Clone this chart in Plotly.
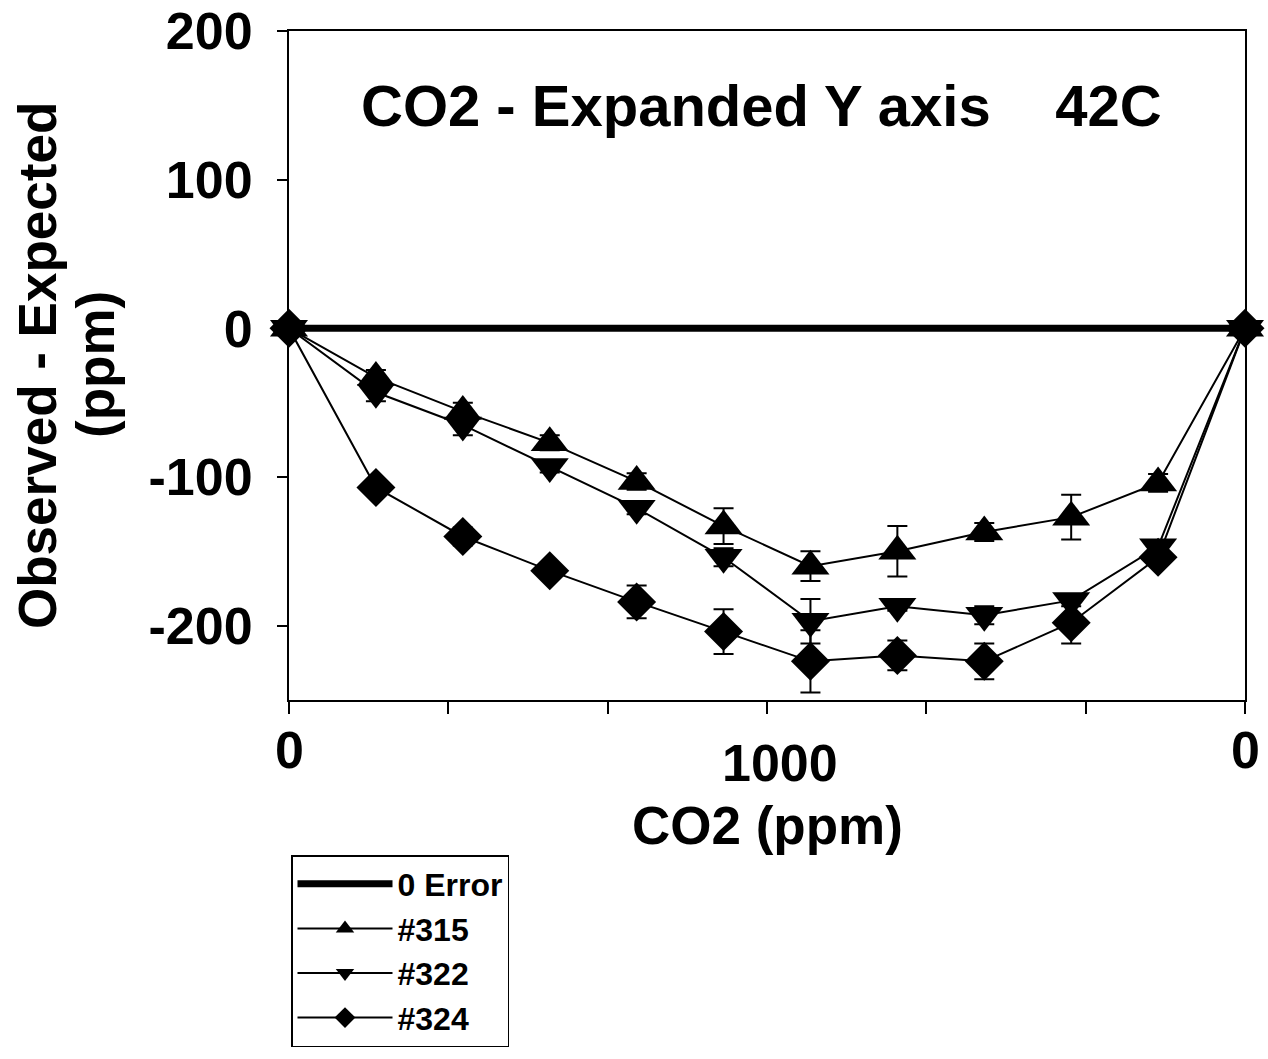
import plotly.graph_objects as go

# ---- data ----
sweep_step = [0, 1, 2, 3, 4, 5, 6, 7, 8, 9, 10, 11]
zero_error = [0, 0, 0, 0, 0, 0, 0, 0, 0, 0, 0, 0]

s315 = [0, -33, -56, -77, -103, -133, -160, -150, -137, -127, -104, 0]
e315 = [0, 5, 6, 5, 5.5, 12, 10, 17, 6, 15, 6, 0]

s322 = [0, -43, -65, -93, -121, -154, -197, -187, -193, -183, -147, 0]
e322 = [0, 6, 7, 4, 4, 6, 15, 3, 6, 4, 4, 0]

s324 = [0, -107, -140, -163, -184, -204, -224, -220, -224, -198, -154, 0]
e324 = [0, 4, 6, 4, 11, 15, 21, 10, 12, 14, 4, 0]

series_names = ["#315", "#322", "#324"]
x_tick_labels = ["0", "1000", "0"]
y_tick_values = [-200, -100, 0, 100, 200]
y_tick_labels = ["-200", "-100", "0", "100", "200"]

# ---- layout geometry (body margin removed, page px == figure px) ----
W, H = 1268, 1059
PL, PR, PT, PB = 289, 1245, 31, 700          # plot box in page pixels
L, T = PL, PT
R, B = W - PR, H - PB
PW, PH = PR - PL, PB - PT

def px(x):
    return (x - PL) / PW

def py(y):
    return (PB - y) / PH

FONT = "Liberation Sans, Arial, sans-serif"

fig = go.Figure()
fig.add_trace(go.Scatter(
    x=sweep_step, y=zero_error, mode="lines", name="0 Error",
    line=dict(color="black", width=7), cliponaxis=False))

styles = [("triangle-up", 33), ("triangle-down", 33), ("diamond", 30)]
for name, ys, es, (sym, sz) in zip(series_names, [s315, s322, s324],
                                   [e315, e322, e324], styles):
    fig.add_trace(go.Scatter(
        x=sweep_step, y=ys, name=name, mode="lines+markers",
        line=dict(color="black", width=2),
        marker=dict(symbol=sym, size=sz, color="black",
                    line=dict(width=0)),
        error_y=dict(type="data", array=es, visible=True, color="black",
                     thickness=2, width=10),
        cliponaxis=False))

n = len(sweep_step) - 1
xtick_pos = [n * k / 6 for k in range(7)]

fig.update_xaxes(
    range=[0, n], showgrid=False, zeroline=False, automargin=False,
    showline=True, linecolor="black", linewidth=2, mirror=True,
    ticks="outside", ticklen=12, tickwidth=1.5, tickcolor="black",
    tickvals=xtick_pos, showticklabels=False)

fig.update_yaxes(
    range=[-250, 200], showgrid=False, zeroline=False, automargin=False,
    showline=True, linecolor="black", linewidth=2, mirror=True,
    ticks="outside", ticklen=10, tickwidth=1.5, tickcolor="black",
    tickvals=y_tick_values, ticktext=y_tick_labels, ticklabelstandoff=14,
    ticklabeloverflow="allow",
    tickfont=dict(family=FONT, size=52, color="black", weight="bold"))

TICKF = dict(family=FONT, size=52, color="black", weight="bold")
TITLEF = dict(family=FONT, size=53, color="black", weight="bold")

ann = []
# x tick labels
ann.append(dict(x=0, y=py(750), xref="x", yref="paper", text=x_tick_labels[0],
                showarrow=False, xanchor="center", yanchor="middle", font=TICKF))
ann.append(dict(x=n / 2, y=py(763), xref="x", yref="paper", text=x_tick_labels[1],
                xshift=13, showarrow=False, xanchor="center", yanchor="middle",
                font=TICKF))
ann.append(dict(x=n, y=py(750), xref="x", yref="paper", text=x_tick_labels[2],
                showarrow=False, xanchor="center", yanchor="middle", font=TICKF))
# axis titles
ann.append(dict(x=px(767), y=py(825), xref="paper", yref="paper", text="CO2 (ppm)",
                showarrow=False, xanchor="center", yanchor="middle", font=TITLEF))
ann.append(dict(x=px(37), y=py(365), xref="paper", yref="paper",
                text="Observed - Expected", textangle=-90,
                showarrow=False, xanchor="center", yanchor="middle", font=TITLEF))
ann.append(dict(x=px(95), y=py(365), xref="paper", yref="paper",
                text="(ppm)", textangle=-90,
                showarrow=False, xanchor="center", yanchor="middle", font=TITLEF))
# chart title inside plot
ann.append(dict(x=px(761), y=py(105), xref="paper", yref="paper",
                text="CO2 - Expanded Y axis\u00a0\u00a0\u00a0\u00a042C",
                showarrow=False, xanchor="center", yanchor="middle",
                font=dict(family=FONT, size=58, color="black", weight="bold")))

fig.update_layout(
    width=W, height=H,
    margin=dict(l=L, r=R, t=T, b=B, pad=0, autoexpand=False),
    paper_bgcolor="white", plot_bgcolor="white",
    font=dict(family=FONT, color="black"),
    annotations=ann,
    showlegend=True,
    legend=dict(x=px(291), y=py(855), xanchor="left", yanchor="top",
                bgcolor="white", bordercolor="black", borderwidth=1.5,
                font=dict(family=FONT, size=32, color="black", weight="bold"),
                itemwidth=95, tracegroupgap=0),
)

fig.write_html(
    "out.html",
    config={"displayModeBar": False},
    post_script="document.body.style.margin='0';"
                "document.body.style.overflow='hidden';")
